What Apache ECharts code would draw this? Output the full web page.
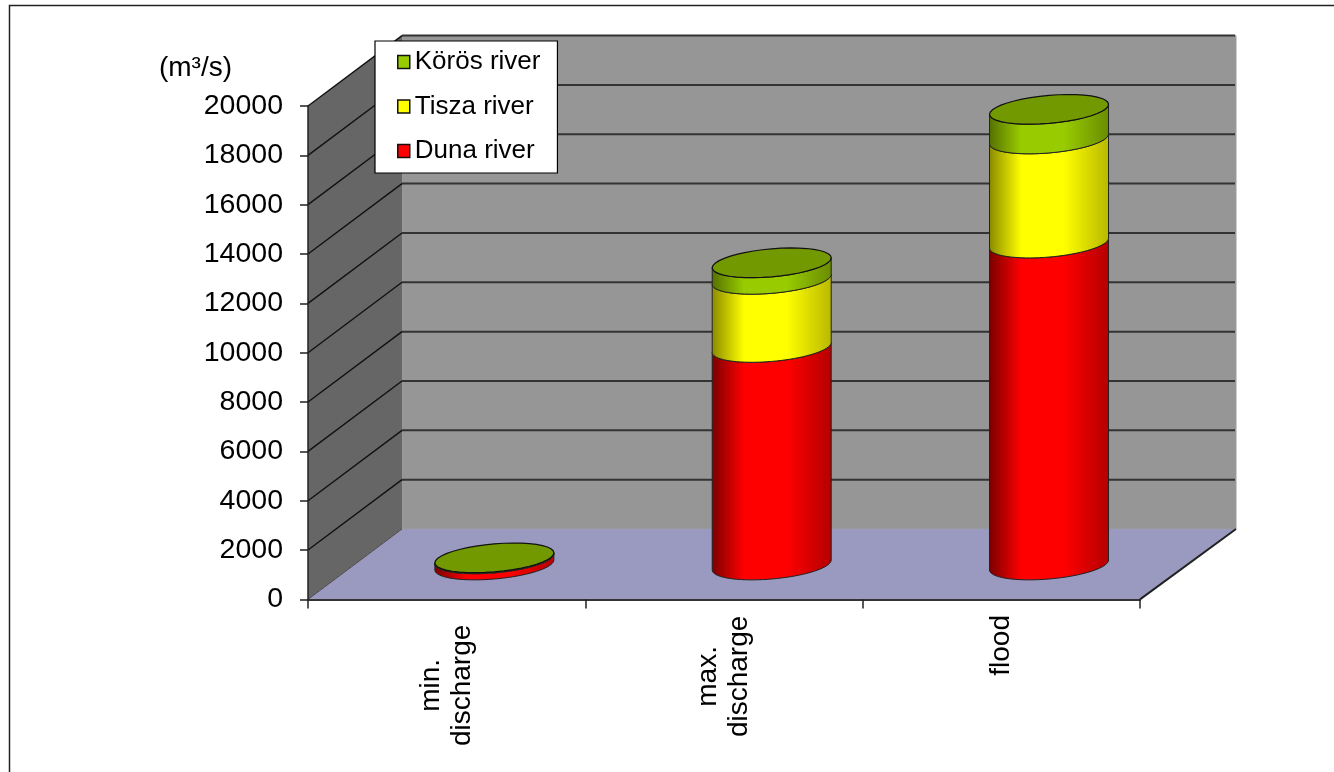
<!DOCTYPE html>
<html><head><meta charset="utf-8">
<style>html,body{margin:0;padding:0;background:#fff}#c{width:1334px;height:772px}</style>
<script src="https://cdn.jsdelivr.net/npm/echarts@6/dist/echarts.min.js"></script>
</head><body><div id="c"></div>
<script>
const categories = ['min.\ndischarge', 'max.\ndischarge', 'flood'];
const duna = [250, 8820, 13050];
const tisza = [25, 2760, 4220];
const koros = [15, 670, 1200];
const yTicks = [2000, 4000, 6000, 8000, 10000, 12000, 14000, 16000, 18000, 20000];
const labelShift = [80, 62, 0];

const DEPTH = [94, -70.4];
const DEPTH_RIGHT = 96;
const OFFSET = [47.7, -34.4];
const FONT = '"Liberation Sans", Arial, sans-serif';

function shades(c) {
  return new echarts.graphic.LinearGradient(0, 0, 1, 0, [
    { offset: 0, color: c[0] }, { offset: 0.27, color: c[1] },
    { offset: 0.62, color: c[1] }, { offset: 1, color: c[2] }
  ]);
}
function arc(cx, cy, rx, from, to) {
  const pts = [];
  for (let i = 0; i <= 40; i++) {
    const t = from + (to - from) * i / 40;
    pts.push([cx + rx * Math.cos(t), cy - 5 * Math.cos(t) + 14 * Math.sin(t)]);
  }
  return pts;
}
function cylinderRenderer(sideColors, capColor) {
  return function (params, api) {
    const base = api.coord([api.value(0), api.value(1)]);
    const top = api.coord([api.value(0), api.value(2)]);
    const rx = api.size([1, 0])[0] * 0.2145;
    const cx = base[0] + OFFSET[0];
    const side = arc(cx, base[1] + OFFSET[1], rx, 0, Math.PI)
      .concat(arc(cx, top[1] + OFFSET[1], rx, Math.PI, 0));
    const children = [{
      type: 'polygon', shape: { points: side },
      style: { fill: shades(sideColors), stroke: '#222', lineWidth: 1 }
    }];
    if (capColor) {
      children.push({
        type: 'polygon', shape: { points: arc(cx, top[1] + OFFSET[1], rx, 0, Math.PI * 2) },
        style: { fill: capColor, stroke: '#111', lineWidth: 1.2 }
      });
    }
    return { type: 'group', children };
  };
}
function wallsRenderer(params, api) {
  const cs = params.coordSys;
  const x0 = cs.x, x1 = cs.x + cs.width;
  const y0 = api.coord([0, 0])[1], yT = api.coord([0, 20000])[1];
  const dx = DEPTH[0], dy = DEPTH[1], dr = DEPTH_RIGHT;
  const children = [
    { type: 'polygon', shape: { points: [[x0 + dx, yT + dy], [x1 + dr, yT + dy], [x1 + dr, y0 + dy], [x0 + dx, y0 + dy]] }, style: { fill: '#969696', stroke: '#9c9c9c', lineWidth: 1 } },
    { type: 'polygon', shape: { points: [[x0, yT], [x0 + dx, yT + dy], [x0 + dx, y0 + dy], [x0, y0]] }, style: { fill: '#666666' } },
    { type: 'polygon', shape: { points: [[x0, y0], [x0 + dx, y0 + dy], [x1 + dr, y0 + dy], [x1, y0]] }, style: { fill: '#9A99C0' } },
    { type: 'line', shape: { x1: x0, y1: y0, x2: x0 + dx, y2: y0 + dy }, style: { stroke: '#4a4a4a', lineWidth: 1 } },
    { type: 'line', shape: { x1: x1, y1: y0, x2: x1 + dr, y2: y0 + dy }, style: { stroke: '#222', lineWidth: 2 } }
  ];
  yTicks.forEach(function (v) {
    const y = api.coord([0, v])[1];
    children.push({ type: 'line', shape: { x1: x0 + dx, y1: y + dy, x2: x1 + dr - 1, y2: y + dy }, style: { stroke: '#333', lineWidth: 2 } });
    children.push({ type: 'line', shape: { x1: x0, y1: y, x2: x0 + dx, y2: y + dy }, style: { stroke: '#111', lineWidth: 1.4 } });
  });
  return { type: 'group', children };
}

const rowsDuna = duna.map((v, i) => [i, 0, v]);
const rowsTisza = tisza.map((v, i) => [i, duna[i], duna[i] + v]);
const rowsKoros = koros.map((v, i) => [i, duna[i] + tisza[i], duna[i] + tisza[i] + v]);

const chart = echarts.init(document.getElementById('c'), null, { renderer: 'canvas' });
chart.setOption({
  animation: false,
  backgroundColor: '#fff',
  textStyle: { fontFamily: FONT },
  graphic: [{
    type: 'rect', silent: true, z: 0,
    shape: { x: 9.5, y: 5.5, width: 1400, height: 800 },
    style: { fill: 'none', stroke: '#222', lineWidth: 1.5 }
  }],
  grid: { left: 308, top: 106, width: 832, height: 493.4, containLabel: false, outerBoundsMode: 'none' },
  legend: {
    orient: 'vertical', left: 375, top: 41, icon: 'rect',
    data: ['Körös river', 'Tisza river', 'Duna river'],
    itemWidth: 12, itemHeight: 13, itemGap: 18.5,
    padding: [8, 17, 9, 22],
    backgroundColor: '#fff', borderColor: '#000', borderWidth: 1.2,
    selectedMode: false,
    itemStyle: { borderColor: '#111', borderWidth: 1.5 },
    textStyle: { fontFamily: FONT, fontSize: 26, color: '#000' }
  },
  xAxis: {
    type: 'category', z: 5,
    data: categories.map((c, i) => ({
      value: c,
      textStyle: { align: 'center', verticalAlign: 'middle', padding: [0, labelShift[i], 0, 0] }
    })),
    axisLine: { show: true, lineStyle: { color: '#333', width: 2 } },
    axisTick: { show: true, length: 9, lineStyle: { color: '#222', width: 1.5 } },
    axisLabel: {
      rotate: 90, margin: 46, interval: 0,
      fontFamily: FONT, fontSize: 28, color: '#000', lineHeight: 31
    }
  },
  yAxis: {
    type: 'value', min: 0, max: 20000, interval: 2000, z: 5,
    name: '(m³/s)', nameLocation: 'end', nameGap: 24,
    nameTextStyle: { fontFamily: FONT, fontSize: 28, color: '#000', align: 'right', padding: [0, 76, 0, 0] },
    axisLine: { show: true, lineStyle: { color: '#222', width: 1.5 } },
    axisTick: { show: true, length: 8, lineStyle: { color: '#222', width: 1.5 } },
    axisLabel: { margin: 25, fontFamily: FONT, fontSize: 28.5, color: '#000', padding: [5, 0, 0, 0], formatter: (v) => String(v) },
    splitLine: { show: false }
  },
  series: [
    { type: 'custom', name: 'walls', z: 1, silent: true, renderItem: wallsRenderer, data: [[0, 0, 0]], encode: { x: 0, y: 1 } },
    { type: 'custom', name: 'Duna river', z: 4, itemStyle: { color: '#FF0000' }, renderItem: cylinderRenderer(['#7a0000', '#FF0000', '#b40000']), data: rowsDuna, encode: { x: 0, y: [1, 2] } },
    { type: 'custom', name: 'Tisza river', z: 4, itemStyle: { color: '#FFFF00' }, renderItem: cylinderRenderer(['#8a8a00', '#FFFF00', '#b8b800']), data: rowsTisza, encode: { x: 0, y: [1, 2] } },
    { type: 'custom', name: 'Körös river', z: 4, itemStyle: { color: '#99CC00' }, renderItem: cylinderRenderer(['#557000', '#99CC00', '#6a8c00'], '#739900'), data: rowsKoros, encode: { x: 0, y: [1, 2] } }
  ]
});
</script></body></html>
